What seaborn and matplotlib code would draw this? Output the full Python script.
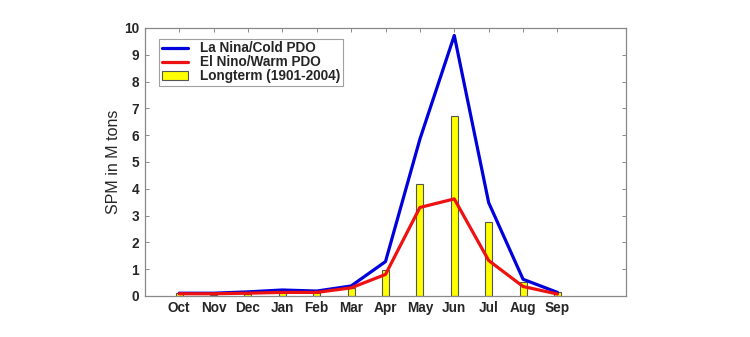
import matplotlib
matplotlib.use("Agg")
import matplotlib.pyplot as plt
import seaborn as sns
import pandas as pd
from matplotlib.lines import Line2D
from matplotlib.patches import Patch

months = ["Oct", "Nov", "Dec", "Jan", "Feb", "Mar", "Apr", "May", "Jun", "Jul", "Aug", "Sep"]
la_nina = [0.10, 0.10, 0.15, 0.22, 0.18, 0.37, 1.28, 5.85, 9.72, 3.48, 0.62, 0.13]
el_nino = [0.08, 0.08, 0.10, 0.13, 0.13, 0.30, 0.80, 3.30, 3.62, 1.32, 0.35, 0.07]
longterm = [0.10, 0.05, 0.08, 0.10, 0.12, 0.30, 0.97, 4.17, 6.70, 2.75, 0.50, 0.15]

pos = list(range(1, len(months) + 1))
df = pd.DataFrame({"pos": pos, "month": months, "la": la_nina, "el": el_nino, "lt": longterm})

sns.set_style("white")
plt.rcParams["font.family"] = ["Liberation Sans", "DejaVu Sans"]

fig = plt.figure(figsize=(7.5, 3.37), dpi=100)
ax = fig.add_axes([0.193, 0.122, 0.642, 0.795])

sns.barplot(data=df, x="pos", y="lt", native_scale=True, width=0.2, color="#ffff00",
            saturation=1, edgecolor="#555555", linewidth=0.8, ax=ax, zorder=1)
sns.lineplot(data=df, x="pos", y="el", color="#ee1111", linewidth=2.3, ax=ax, zorder=3)
sns.lineplot(data=df, x="pos", y="la", color="#0000dd", linewidth=2.3, ax=ax, zorder=2)

ax.set_xlim(0, 14)
ax.set_ylim(0, 10)
ax.set_xticks(pos)
ax.set_xticklabels(months)
ax.set_yticks(range(0, 11))
ax.set_xlabel("")
ax.set_ylabel("SPM in M tons", fontsize=11.5, labelpad=2)
ax.tick_params(direction="in", length=3, width=0.6, color="#777777", labelsize=9.8,
               top=True, right=True, bottom=True, left=True, pad=4)
for lab in ax.get_xticklabels() + ax.get_yticklabels():
    lab.set_fontweight("bold")
for s in ax.spines.values():
    s.set_color("#888888")
    s.set_linewidth(0.9)

handles = [Line2D([0], [0], color="#0000dd", lw=2.3),
           Line2D([0], [0], color="#ee1111", lw=2.3),
           Patch(facecolor="#ffff00", edgecolor="#555555", linewidth=0.8)]
labels = ["La Nina/Cold PDO", "El Nino/Warm PDO", "Longterm (1901-2004)"]
leg = ax.legend(handles, labels, loc="upper left", bbox_to_anchor=(0.03, 0.96),
                frameon=True, fancybox=False, edgecolor="#888888",
                handlelength=1.9, handleheight=0.6, borderpad=0.2, labelspacing=0.0,
                handletextpad=0.9, borderaxespad=0.0,
                prop={"weight": "bold", "size": 9.8})
leg.get_frame().set_linewidth(0.8)

fig.savefig("out.png", dpi=100, facecolor="white")
